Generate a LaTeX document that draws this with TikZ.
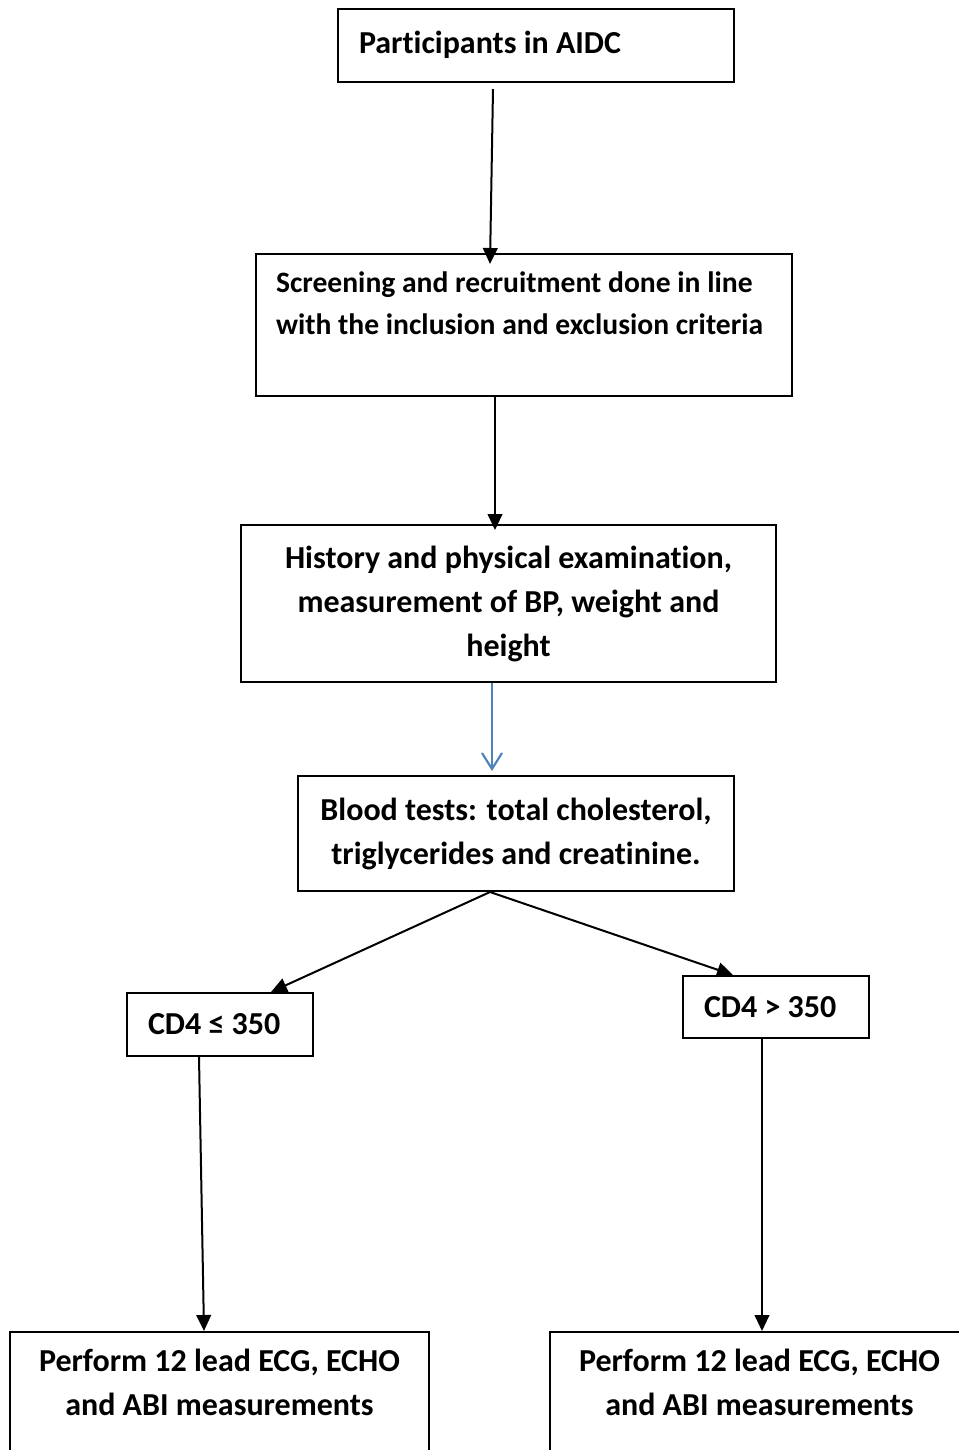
\documentclass[tikz,border=0pt]{standalone}
\usepackage{fontspec}
\setmainfont{Carlito}[Ligatures=NoCommon]
\usetikzlibrary{arrows.meta}
\definecolor{arrowblue}{RGB}{79,129,189}
\begin{document}
\begin{tikzpicture}[x=0.75pt,y=-0.75pt,
  box/.style={draw, line width=1.5pt, inner ysep=0pt,
    font=\fontsize{24}{33}\selectfont\bfseries},
  leftbox/.style={box, align=flush left, inner xsep=15.75pt},
  centerbox/.style={box, align=center, inner xsep=0pt},
  arr/.style={line width=1.5pt, -{Triangle[length=12pt,width=11pt]}},
  bluearr/.style={line width=1.6pt, draw=arrowblue, -{Straight Barb[length=12pt,width=15pt,line width=1.6pt]}}]
\useasboundingbox (0,0) rectangle (959,1450);
\clip (0,0) rectangle (959,1450);

\node[leftbox, text width=265.5pt, minimum height=54.75pt] (p) at (536,45.5) {\raisebox{4.5pt}{Participants in AIDC}};
\node[leftbox, text width=372pt, inner xsep=15pt, minimum height=106.5pt,
  font=\fontsize{22.2}{31.5}\selectfont\bfseries] (s) at (524,325)
  {Screening and recruitment done in line\\ with the inclusion and exclusion criteria\\[-7.5pt] \strut};
\node[centerbox, minimum width=401.25pt, minimum height=117.75pt] (h) at (508.5,603.5)
  {History and physical examination,\\ measurement of BP, weight and\\ height};
\node[centerbox, minimum width=327pt, minimum height=86.25pt] (b) at (516,833.5)
  {Blood tests: total cholesterol,\\ triglycerides and creatinine.};
\node[leftbox, text width=108pt, minimum height=47.25pt] (c1) at (220,1024.5) {CD4 ≤ 350};
\node[leftbox, text width=108pt, minimum height=46.5pt] (c2) at (776,1007) {CD4 > 350};
\node[centerbox, minimum width=314.25pt, minimum height=117.75pt] (e1) at (219.5,1410.5)
  {Perform 12 lead ECG, ECHO\\ and ABI measurements\\ \strut};
\node[centerbox, minimum width=314.25pt, minimum height=117.75pt] (e2) at (759.5,1410.5)
  {Perform 12 lead ECG, ECHO\\ and ABI measurements\\ \strut};

\draw[arr] ([xshift=-32.25pt,yshift=-4.5pt]p.south) -- ([xshift=-25.5pt,yshift=-8.25pt]s.north);
\draw[arr] ([xshift=-21.75pt]s.south) -- ([xshift=-10.125pt,yshift=-4.5pt]h.north);
\draw[bluearr] ([xshift=-12.375pt]h.south) -- ([xshift=-18pt,yshift=3pt]b.north);
\draw[arr] ([xshift=-19.5pt]b.south) -- ([xshift=38.25pt]c1.north);
\draw[arr] ([xshift=-19.5pt]b.south) -- ([xshift=-32.25pt]c2.north);
\draw[arr] ([xshift=-15.75pt]c1.south) -- ([xshift=-11.625pt]e1.north);
\draw[arr] ([xshift=-10.5pt]c2.south) -- ([xshift=1.875pt]e2.north);
\end{tikzpicture}
\end{document}
